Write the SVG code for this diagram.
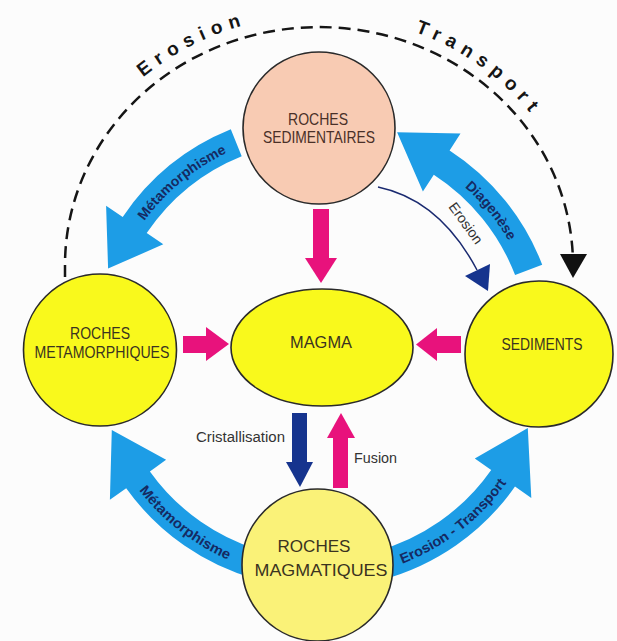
<svg xmlns="http://www.w3.org/2000/svg" width="617" height="641" viewBox="0 0 617 641">
<style>
.bg{fill:#fcfcfc}
.node{stroke:#2a2a2a;stroke-width:1.6}
.yel{fill:#f9f91c}
.pale{fill:#faf278}
.peach{fill:#f8cbb3}
.lbl{font-family:"Liberation Sans",Arial,sans-serif;font-size:16.5px;fill:#3a3320;text-anchor:middle}
.lbls{fill:#4a3028}
.big{fill:#1d9de6}
.pink{fill:#e8127c}
.dblue{fill:#16348e}
.btxt{font-family:"Liberation Sans",Arial,sans-serif;font-weight:bold;font-size:14px;fill:#152a62}
.small{font-family:"Liberation Sans",Arial,sans-serif;font-size:14px;fill:#333}
.arc{fill:none;stroke:#151515;stroke-width:2.5;stroke-dasharray:12 7}
.arctxt{font-family:"Liberation Sans",Arial,sans-serif;font-weight:bold;font-size:19px;fill:#151515;letter-spacing:6.8px}
</style>
<defs>
<path id="tpArc" d="M53,265 A266,250 0 0 1 585,265"/>
<path id="tp1" d="M132.2,239.4 A218,218 0 0 1 247.2,144.5"/>
<path id="tp2" d="M447.5,173.2 A218,218 0 0 1 518.8,260.6"/>
<path id="tp3" d="M125.9,471.5 A229,229 0 0 0 249.4,567.8"/>
<path id="tp4" d="M382.4,570.3 A229,229 0 0 0 517.9,465.2"/>
</defs>
<rect class="bg" x="0" y="0" width="617" height="641"/>
<g id="connectors">
<path class="arc" d="M65,277 L65,265 A254,238 0 0 1 573,265 L573,256"/>
<polygon fill="#111" points="560,254 587,254 573,278"/>
<text class="arctxt"><textPath href="#tpArc" startOffset="215">Erosion</textPath></text>
<text class="arctxt"><textPath href="#tpArc" startOffset="503">Transport</textPath></text>
<path class="big" d="M230.8,129.3 A238,238 0 0 0 122.7,216.9 L106.1,205.7 L108.1,268.6 L163.3,244.3 L146.7,233.1 A209,209 0 0 1 241.7,156.2 Z"/>
<path class="big" d="M542.2,264.7 A238,238 0 0 0 449.6,150.4 L460.5,133.6 L397.1,132.3 L422.9,191.5 L433.8,174.7 A209,209 0 0 1 515.1,275.1 Z"/>
<path class="big" d="M258.4,579.9 A238,238 0 0 1 126.2,488.2 L109.9,499.8 L111.8,429.9 L166.1,459.8 L149.9,471.4 A209,209 0 0 0 265.9,551.9 Z"/>
<path class="big" d="M381.6,579.9 A238,238 0 0 0 515.0,486.5 L531.3,498.0 L527.8,428.1 L474.8,458.4 L491.2,469.9 A209,209 0 0 1 374.1,551.9 Z"/>
<text class="btxt"><textPath href="#tp1" startOffset="50%" text-anchor="middle" textLength="108" lengthAdjust="spacingAndGlyphs">Métamorphisme</textPath></text>
<text class="btxt"><textPath href="#tp2" startOffset="50%" text-anchor="middle" textLength="70" lengthAdjust="spacingAndGlyphs">Diagenèse</textPath></text>
<text class="btxt"><textPath href="#tp3" startOffset="50%" text-anchor="middle" textLength="114" lengthAdjust="spacingAndGlyphs">Métamorphisme</textPath></text>
<text class="btxt"><textPath href="#tp4" startOffset="50%" text-anchor="middle" textLength="134" lengthAdjust="spacingAndGlyphs">Erosion - Transport</textPath></text>
<path d="M378,187 Q440,200 477,270" fill="none" stroke="#1a2a70" stroke-width="1.5"/>
<polygon class="dblue" points="465,276 490,264 488,291"/>
<text class="small" font-size="13" text-anchor="middle" transform="translate(462,226) rotate(54)">Erosion</text>
<rect class="pink" x="313" y="209" width="16" height="50"/>
<polygon class="pink" points="305,258 337,258 321,283"/>
<rect class="pink" x="183" y="336" width="24" height="17"/>
<polygon class="pink" points="206,327 206,361 229,344"/>
<rect class="pink" x="436" y="336" width="25" height="17"/>
<polygon class="pink" points="437,328 437,361 416,344.5"/>
<rect class="dblue" x="292" y="413" width="15" height="50"/>
<polygon class="dblue" points="286,462 313,462 300,487"/>
<rect class="pink" x="333" y="437" width="15" height="51"/>
<polygon class="pink" points="327,438 355,438 341,413"/>
<text class="small" x="196" y="442" textLength="89" lengthAdjust="spacingAndGlyphs">Cristallisation</text>
<text class="small" x="354" y="463" textLength="43" lengthAdjust="spacingAndGlyphs">Fusion</text>
</g>
<g id="roches-sedimentaires">
<ellipse class="node peach" cx="319" cy="128" rx="76" ry="76"/>
<text class="lbl lbls" x="318" y="125" textLength="60" lengthAdjust="spacingAndGlyphs">ROCHES</text>
<text class="lbl lbls" x="319" y="143" textLength="112" lengthAdjust="spacingAndGlyphs">SEDIMENTAIRES</text>
</g>
<g id="roches-metamorphiques">
<ellipse class="node yel" cx="100" cy="350" rx="76.5" ry="76"/>
<text class="lbl" x="100" y="339" textLength="60" lengthAdjust="spacingAndGlyphs">ROCHES</text>
<text class="lbl" x="102" y="358" textLength="135" lengthAdjust="spacingAndGlyphs">METAMORPHIQUES</text>
</g>
<g id="magma">
<ellipse class="node yel" cx="322" cy="347.5" rx="91" ry="58.5"/>
<text class="lbl" x="321" y="348" font-size="14" textLength="62" lengthAdjust="spacingAndGlyphs">MAGMA</text>
</g>
<g id="sediments">
<ellipse class="node yel" cx="539" cy="354" rx="74" ry="73"/>
<text class="lbl" x="542" y="350" textLength="81" lengthAdjust="spacingAndGlyphs">SEDIMENTS</text>
</g>
<g id="roches-magmatiques">
<ellipse class="node pale" cx="317.5" cy="565" rx="75.5" ry="76"/>
<text class="lbl" x="314" y="552" font-size="17" textLength="73" lengthAdjust="spacingAndGlyphs">ROCHES</text>
<text class="lbl" x="321" y="576" font-size="17" textLength="133" lengthAdjust="spacingAndGlyphs">MAGMATIQUES</text>
</g>
</svg>
